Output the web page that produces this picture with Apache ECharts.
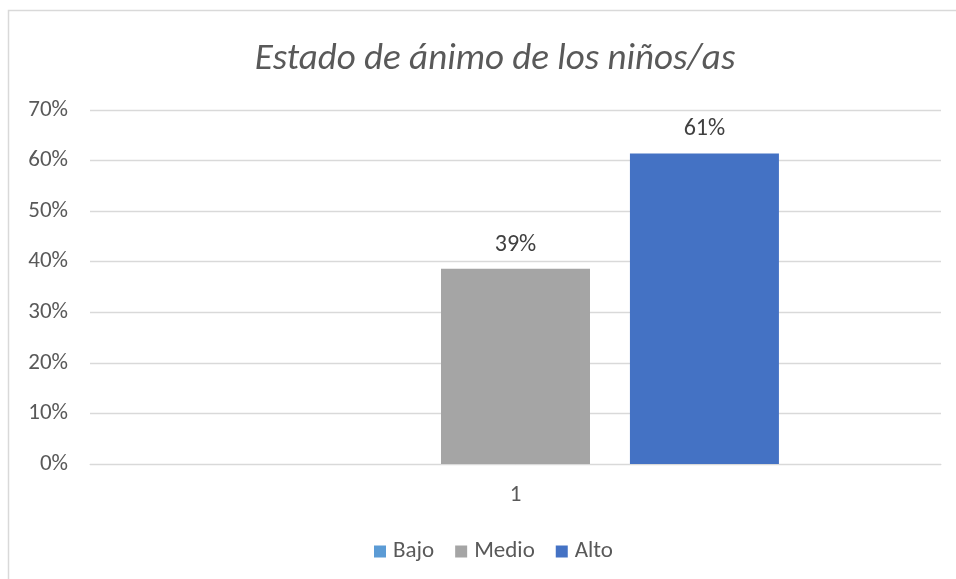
<!DOCTYPE html>
<html>
<head>
<meta charset="utf-8">
<script src="https://cdn.jsdelivr.net/npm/echarts@6/dist/echarts.min.js"></script>
<style>
  html, body { margin: 0; padding: 0; background: #fff; }
  #chart { width: 956px; height: 579px; }
</style>
</head>
<body>
<div id="chart"></div>
<script>
// datos del gráfico
const categories = ['1'];
const seriesNames = ['Bajo', 'Medio', 'Alto'];
const bajo = [null];
const medio = [0.386];
const alto = [0.614];
const colors = ['#5B9BD5', '#A5A5A5', '#4472C4'];

const font = 'Carlito, Calibri, Lato, sans-serif';

let myChart = echarts.init(document.getElementById('chart'));

const pct = v => Math.round(v * 100) + '%';

function barSeries(name, data, color) {
  return {
    name: name,
    type: 'bar',
    data: data,
    barWidth: 149,
    barGap: '26.8%',
    itemStyle: { color: color },
    label: {
      show: true,
      position: 'top',
      distance: 12,
      color: '#404040',
      fontFamily: font,
      fontSize: 24,
      formatter: p => (p.value == null ? '' : pct(p.value)),
    },
  };
}

myChart.setOption({
  animation: false,
  color: colors,
  title: {
    text: 'Estado de ánimo de los niños/as',
    left: 490,
    textAlign: 'center',
    top: 36,
    textStyle: {
      fontFamily: font,
      fontStyle: 'italic',
      fontWeight: 'normal',
      fontSize: 37,
      color: '#595959',
    },
  },
  graphic: [
    {
      type: 'rect',
      shape: { x: 8.5, y: 10.5, width: 1000, height: 1000 },
      style: { fill: 'none', stroke: '#D9D9D9', lineWidth: 1.5 },
      silent: true,
    },
  ],
  legend: {
    data: seriesNames,
    top: 535,
    left: 369,
    itemWidth: 12,
    itemHeight: 12,
    itemGap: 21,
    icon: 'rect',
    textStyle: { fontFamily: font, fontSize: 23, color: '#595959', padding: [0, 0, 0, 2] },
  },
  grid: { left: 90, right: 15, top: 110, bottom: 115, containLabel: false },
  xAxis: {
    type: 'category',
    data: categories,
    axisLine: { lineStyle: { color: '#D9D9D9' } },
    axisTick: { show: false },
    axisLabel: { fontFamily: font, fontSize: 23, color: '#595959', margin: 20 },
  },
  yAxis: {
    type: 'value',
    min: 0,
    max: 0.7,
    interval: 0.1,
    axisLine: { show: false },
    axisTick: { show: false },
    splitLine: { lineStyle: { color: '#D9D9D9', width: 1.3 } },
    axisLabel: {
      fontFamily: font,
      fontSize: 23,
      color: '#595959',
      margin: 22,
      formatter: v => pct(v),
    },
  },
  series: [
    barSeries(seriesNames[0], bajo, colors[0]),
    barSeries(seriesNames[1], medio, colors[1]),
    barSeries(seriesNames[2], alto, colors[2]),
  ],
});
</script>
</body>
</html>
